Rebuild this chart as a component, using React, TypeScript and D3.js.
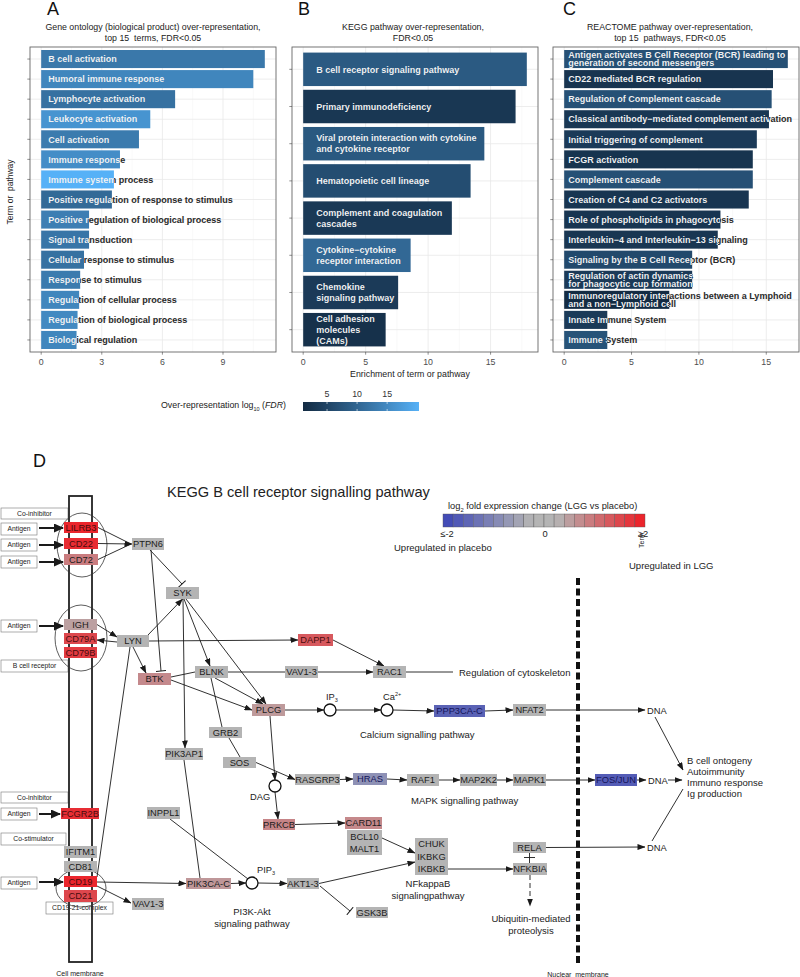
import React from "react";
import * as d3 from "d3";

const FONT = "'Liberation Sans', Arial, Helvetica, sans-serif";

// ---------- Panel A: GO over-representation ----------
const goTerms = [
  "B cell activation", "Humoral immune response", "Lymphocyte activation", "Leukocyte activation",
  "Cell activation", "Immune response", "Immune system process",
  "Positive regulation of response to stimulus", "Positive regulation of biological process",
  "Signal transduction", "Cellular response to stimulus", "Response to stimulus",
  "Regulation of cellular process", "Regulation of biological process", "Biological regulation",
];
const goEnrichment = [11.07, 10.5, 6.63, 5.4, 4.84, 3.9, 3.6, 3.5, 2.37, 2.37, 2.12, 1.93, 1.88, 1.8, 1.75];
const goLog10Fdr = [12.6, 14.5, 11.6, 16.4, 13.0, 15.5, 20.3, 10.6, 13.5, 12.2, 11.6, 13.0, 14.5, 14.9, 14.5];
const goTicks = [0, 3, 6, 9];

// ---------- Panel B: KEGG ----------
const keggTerms = [
  "B cell receptor signaling pathway", "Primary immunodeficiency",
  "Viral protein interaction with cytokine\nand cytokine receptor", "Hematopoietic cell lineage",
  "Complement and coagulation\ncascades", "Cytokine\u2212cytokine\nreceptor interaction",
  "Chemokine\nsignaling pathway", "Cell adhesion\nmolecules\n(CAMs)",
];
const keggEnrichment = [17.9, 17.0, 14.5, 13.4, 11.9, 8.6, 7.6, 6.6];
const keggLog10Fdr = [8.3, 2.9, 8.1, 6.4, 3.3, 10.3, 3.5, 2.0];
const keggTicks = [0, 5, 10, 15];

// ---------- Panel C: REACTOME ----------
const reactomeTerms = [
  "Antigen activates B Cell Receptor (BCR) leading to\ngeneration of second messengers",
  "CD22 mediated BCR regulation", "Regulation of Complement cascade",
  "Classical antibody\u2212mediated complement activation", "Initial triggering of complement",
  "FCGR activation", "Complement cascade", "Creation of C4 and C2 activators",
  "Role of phospholipids in phagocytosis", "Interleukin\u22124 and Interleukin\u221213 signaling",
  "Signaling by the B Cell Receptor (BCR)", "Regulation of actin dynamics\nfor phagocytic cup formation",
  "Immunoregulatory interactions between a Lymphoid\nand a non\u2212Lymphoid cell",
  "Innate Immune System", "Immune System",
];
const reactomeEnrichment = [16.6, 15.5, 15.4, 15.2, 14.3, 14.0, 14.0, 13.7, 11.6, 11.4, 9.5, 9.5, 7.8, 3.2, 3.2];
const reactomeLog10Fdr = [6.8, 2.5, 6.8, 2.9, 3.5, 2.4, 6.8, 2.7, 2.7, 2.8, 5.8, 3.5, 1.0, 3.5, 7.2];
const reactomeTicks = [0, 5, 10, 15];

const fdrLegendTicks = [5, 10, 15];

// ---------- Panel D: KEGG B cell receptor pathway, log2 fold change (LGG vs placebo) ----------
const geneIds = [
  "LILRB3", "CD22", "CD72", "PTPN6", "SYK", "IGH", "CD79A", "CD79B", "LYN", "DAPP1", "BTK", "BLNK",
  "VAV1-3", "RAC1", "PLCG", "GRB2", "SOS", "PIK3AP1", "RASGRP3", "HRAS", "RAF1", "MAP2K2", "MAPK1",
  "FOS/JUN", "PPP3CA-C", "NFAT2", "PRKCB", "CARD11", "BCL10/MALT1", "CHUK/IKBKG/IKBKB", "RELA",
  "NFKBIA", "INPPL1", "FCGR2B", "IFITM1", "CD81", "CD19", "CD21", "PIK3CA-C", "AKT1-3", "GSK3B", "VAV1-3 (b)",
];
const geneLabels = [
  "LILRB3", "CD22", "CD72", "PTPN6", "SYK", "IGH", "CD79A", "CD79B", "LYN", "DAPP1", "BTK", "BLNK",
  "VAV1-3", "RAC1", "PLCG", "GRB2", "SOS", "PIK3AP1", "RASGRP3", "HRAS", "RAF1", "MAP2K2", "MAPK1",
  "FOS/JUN", "PPP3CA-C", "NFAT2", "PRKCB", "CARD11", "BCL10\nMALT1", "CHUK\nIKBKG\nIKBKB", "RELA",
  "NFKBIA", "INPPL1", "FCGR2B", "IFITM1", "CD81", "CD19", "CD21", "PIK3CA-C", "AKT1-3", "GSK3B", "VAV1-3",
];
const geneLog2FC = [
  1.9, 1.83, 0.9, 0, 0, 0.48, 1.5, 1.65, 0, 1.3, 0.74, 0,
  0, 0, 0.55, 0, 0, 0, 0, -0.81, 0, 0, 0,
  -1.65, -1.56, 0, 0.8, 0.75, 0, 0, 0,
  0, 0, 1.8, 0, 0, 1.9, 1.5, 0.58, 0, 0, 0,
];
const fcLegendLabels = ["\u2264-2", "0", "\u22652"];

// ---------------- layout (diagram geometry) ----------------
type Box = [number, number, number, number];
const layout: Record<string, Box> = {
  LILRB3: [64, 522, 34, 11], CD22: [64, 538, 34, 11], CD72: [64, 554, 34, 11],
  PTPN6: [132, 538, 32, 12], SYK: [166, 587, 33, 12],
  IGH: [64, 619, 33, 11], CD79A: [64, 633, 33, 11], CD79B: [64, 647, 33, 11],
  LYN: [117, 635, 32, 12], DAPP1: [298, 634, 35, 12], BTK: [138, 673, 33, 12],
  BLNK: [195, 666, 33, 12], "VAV1-3": [285, 666, 33, 12], RAC1: [373, 666, 33, 12],
  PLCG: [252, 704, 33, 12], GRB2: [209, 727, 33, 11], SOS: [223, 757, 33, 11],
  PIK3AP1: [165, 748, 38, 12], RASGRP3: [295, 774, 45, 11], HRAS: [353, 773, 34, 12],
  RAF1: [407, 774, 32, 12], MAP2K2: [460, 774, 37, 12], MAPK1: [513, 774, 33, 12],
  "FOS/JUN": [595, 774, 42, 12], "PPP3CA-C": [434, 705, 51, 12], NFAT2: [513, 704, 33, 12],
  PRKCB: [263, 819, 32, 11], CARD11: [345, 817, 37, 12], "BCL10/MALT1": [347, 830, 35, 25],
  "CHUK/IKBKG/IKBKB": [415, 838, 33, 37], RELA: [513, 842, 33, 11], NFKBIA: [513, 863, 34, 12],
  INPPL1: [147, 807, 33, 12], FCGR2B: [61, 808, 38, 11], IFITM1: [64, 846, 33, 12],
  CD81: [64, 861, 33, 11], CD19: [64, 876, 33, 11], CD21: [64, 890, 33, 12],
  "PIK3CA-C": [186, 878, 45, 11], "AKT1-3": [287, 878, 32, 11], GSK3B: [356, 907, 32, 11],
  "VAV1-3 (b)": [132, 898, 32, 12],
};
type P = [number, number];
const Lf = (id: string, dy = 0): P => { const [x, y, , h] = layout[id]; return [x, y + h / 2 + dy]; };
const Rt = (id: string, dy = 0): P => { const [x, y, w, h] = layout[id]; return [x + w, y + h / 2 + dy]; };
const Bt = (id: string, dx = 0): P => { const [x, y, w, h] = layout[id]; return [x + w / 2 + dx, y + h]; };

const circles: { name: string; c: P }[] = [
  { name: "IP3", c: [330, 710] }, { name: "Ca", c: [387, 710] },
  { name: "DAG", c: [275, 786] }, { name: "PIP3", c: [252, 883] },
];

type Kind = "arrow" | "line" | "tbar" | "dash" | "thick";
const edges: [P, P, Kind][] = [
  [Rt("LILRB3"), [131, 544], "line"],
  [Rt("CD22"), Lf("PTPN6"), "arrow"],
  [Rt("CD72"), [131, 544], "line"],
  [[150, 550], [182, 584], "tbar"],
  [[151, 550], [161, 671], "tbar"],
  [Rt("IGH"), [117, 637], "arrow"],
  [[117, 642], [97, 640], "arrow"],
  [[148, 635], Bt("SYK"), "arrow"],
  [Rt("LYN"), Lf("DAPP1"), "arrow"],
  [Rt("DAPP1"), [384, 666], "arrow"],
  [[133, 647], [146, 673], "arrow"],
  [[97, 877], [130, 647], "line"],
  [[184, 599], [210, 666], "arrow"],
  [[186, 599], [266, 704], "arrow"],
  [[183, 599], [185, 748], "arrow"],
  [[171, 677], [195, 672], "line"],
  [[171, 680], Lf("PLCG"), "arrow"],
  [Rt("BLNK"), Lf("VAV1-3"), "line"],
  [Rt("VAV1-3"), Lf("RAC1"), "arrow"],
  [Rt("RAC1"), [453, 672], "line"],
  [[215, 678], [263, 704], "arrow"],
  [[211, 678], [222, 727], "line"],
  [[229, 738], [240, 757], "line"],
  [Rt("SOS"), Lf("RASGRP3"), "arrow"],
  [Rt("PLCG"), [324, 710], "arrow"],
  [[336, 710], [381, 710], "arrow"],
  [[393, 710], Lf("PPP3CA-C"), "arrow"],
  [Rt("PPP3CA-C"), Lf("NFAT2"), "arrow"],
  [Rt("NFAT2"), [645, 710], "arrow"],
  [[270, 716], [275, 780], "arrow"],
  [[275, 792], [278, 819], "arrow"],
  [Rt("PRKCB"), Lf("CARD11"), "arrow"],
  [[382, 838], [415, 853], "arrow"],
  [Rt("AKT1-3"), [415, 862], "arrow"],
  [[448, 869], Lf("NFKBIA"), "arrow"],
  [Rt("RELA"), [645, 847], "arrow"],
  [[530, 875], [530, 906], "dash"],
  [Rt("RASGRP3"), Lf("HRAS"), "arrow"],
  [Rt("HRAS"), Lf("RAF1"), "arrow"],
  [Rt("RAF1"), Lf("MAP2K2"), "arrow"],
  [Rt("MAP2K2"), Lf("MAPK1"), "arrow"],
  [Rt("MAPK1"), Lf("FOS/JUN"), "arrow"],
  [Rt("FOS/JUN"), [646, 780], "arrow"],
  [[668, 780], [682, 780], "arrow"],
  [[655, 717], [683, 770], "arrow"],
  [[652, 841], [683, 789], "line"],
  [[97, 882], Lf("PIK3CA-C"), "arrow"],
  [[97, 886], [131, 903], "arrow"],
  [Bt("PIK3AP1"), [200, 878], "line"],
  [Rt("PIK3CA-C"), [246, 883], "arrow"],
  [[170, 819], [248, 879], "line"],
  [[258, 883], Lf("AKT1-3"), "arrow"],
  [[320, 886], [350, 911], "tbar"],
  [[39, 528], [63, 528], "thick"],
  [[39, 545], [63, 545], "thick"],
  [[39, 562], [63, 562], "thick"],
  [[39, 626], [63, 626], "thick"],
  [[39, 814], [60, 814], "thick"],
  [[39, 882], [63, 882], "thick"],
];

const labelBoxes: [string, number, number, number, number][] = [
  ["Co-inhibitor", 1, 508, 67, 11], ["Antigen", 1, 523, 36, 12], ["Antigen", 1, 539, 36, 12],
  ["Antigen", 1, 556, 36, 12], ["Antigen", 1, 620, 36, 12], ["B cell receptor", 1, 660, 67, 12],
  ["Co-inhibitor", 1, 792, 67, 11], ["Antigen", 1, 808, 36, 12], ["Co-stimulator", 1, 833, 65, 12],
  ["Antigen", 1, 877, 36, 12], ["CD19-21-complex", 46, 902, 67, 12],
];

// ---------------- scales ----------------
const allFdr = [...goLog10Fdr, ...keggLog10Fdr, ...reactomeLog10Fdr];
const fdrExtent = d3.extent(allFdr) as [number, number];
const fdrColor = d3.scaleLinear<string>().domain(fdrExtent).range(["#132B43", "#56B1F7"]).interpolate(d3.interpolateLab);
const fcColor = d3.scaleLinear<string>().domain([-2, -0.25, 0.25, 2])
  .range(["#3c46b6", "#b4b4b4", "#b4b4b4", "#ee1c24"]).clamp(true);

type PanelProps = {
  id: string; labels: string[]; values: number[]; fdr: number[]; left: number; right: number;
  ticks: number[]; inset: number; gap: number; title: string[]; titleX: number; letter: string; letterX: number;
};
const TOP = 47, BOTTOM = 352;

function BarPanel(p: PanelProps) {
  const n = p.labels.length;
  const max = d3.max(p.values)!;
  const x = d3.scaleLinear().domain([-0.05 * max, 1.05 * max]).range([p.left, p.right]);
  const y = d3.scaleLinear().domain([0.4, n + 0.6]).range([TOP, BOTTOM]);
  const bh = 0.9 * (y(2) - y(1));
  const step = p.ticks[1] - p.ticks[0];
  const [d0, d1] = x.domain();
  const minors = p.ticks.map((t) => t + step / 2).filter((t) => t > d0 && t < d1);
  const gx0 = x(0), gx1 = p.right + 40;
  return (
    <g fontFamily={FONT}>
      <text x={p.letterX} y={15} fontSize={18} fill="#111">{p.letter}</text>
      {p.title.map((t, i) => (
        <text key={i} x={p.titleX} y={30 + i * 11} textAnchor="middle" fontSize={8.8} fill="#222" style={{ whiteSpace: "pre" }}>{t}</text>
      ))}
      <rect x={p.left} y={TOP} width={p.right - p.left} height={BOTTOM - TOP} fill="#fff" />
      {minors.map((t) => <line key={"m" + t} x1={x(t)} x2={x(t)} y1={TOP} y2={BOTTOM} stroke="#f3f3f3" strokeWidth={0.5} />)}
      {p.ticks.map((t) => <line key={"g" + t} x1={x(t)} x2={x(t)} y1={TOP} y2={BOTTOM} stroke="#e8e8e8" strokeWidth={0.8} />)}
      {p.labels.map((_, i) => <line key={"h" + i} x1={p.left} x2={p.right} y1={y(i + 1)} y2={y(i + 1)} stroke="#e8e8e8" strokeWidth={0.8} />)}
      <defs>
        {p.values.map((v, i) => {
          const f = (x(v) - gx0) / (gx1 - gx0);
          return (
            <linearGradient key={i} id={`${p.id}-g${i}`} gradientUnits="userSpaceOnUse" x1={gx0} x2={gx1} y1={0} y2={0}>
              <stop offset={f} stopColor="#f2f2f2" />
              <stop offset={f} stopColor="#2a2a2a" />
            </linearGradient>
          );
        })}
      </defs>
      {p.values.map((v, i) => {
        const cy = y(i + 1);
        const lines = p.labels[i].split("\n");
        const tx = x(0) + p.inset;
        return (
          <g key={i}>
            <rect x={x(0)} y={cy - bh / 2} width={x(v) - x(0)} height={bh} fill={fdrColor(p.fdr[i])} />
            <text fontSize={9} fontWeight="bold" fill={`url(#${p.id}-g${i})`}>
              {lines.map((ln, j) => (
                <tspan key={j} x={tx} y={cy + (j - (lines.length - 1) / 2) * p.gap + 3.2}>{ln}</tspan>
              ))}
            </text>
          </g>
        );
      })}
      <rect x={p.left} y={TOP} width={p.right - p.left} height={BOTTOM - TOP} fill="none" stroke="#666" strokeWidth={0.9} />
      {p.labels.map((_, i) => <line key={"yt" + i} x1={p.left - 2.7} x2={p.left} y1={y(i + 1)} y2={y(i + 1)} stroke="#444" strokeWidth={0.6} />)}
      {p.ticks.map((t) => (
        <g key={"xt" + t}>
          <line x1={x(t)} x2={x(t)} y1={BOTTOM} y2={BOTTOM + 2.7} stroke="#444" strokeWidth={0.6} />
          <text x={x(t)} y={BOTTOM + 13} textAnchor="middle" fontSize={8.8} fill="#4d4d4d">{t}</text>
        </g>
      ))}
    </g>
  );
}

function FdrLegend() {
  const lx = d3.scaleLinear().domain(fdrExtent).range([303, 419]);
  const stops = d3.range(0, 1.0001, 0.1);
  return (
    <g fontFamily={FONT}>
      <defs>
        <linearGradient id="fdrgrad" x1="0" x2="1" y1="0" y2="0">
          {stops.map((s) => <stop key={s} offset={s} stopColor={fdrColor(fdrExtent[0] + s * (fdrExtent[1] - fdrExtent[0]))} />)}
        </linearGradient>
      </defs>
      <text x={161} y={408} fontSize={8.8} fill="#222">
        Over-representation log<tspan fontSize={5.5} dy={2.5}>10</tspan><tspan dy={-2.5}> (</tspan><tspan fontStyle="italic">FDR</tspan>)
      </text>
      <rect x={303} y={402} width={116} height={9} fill="url(#fdrgrad)" />
      {fdrLegendTicks.map((t) => (
        <g key={t}>
          <line x1={lx(t)} x2={lx(t)} y1={402} y2={404} stroke="#fff" strokeWidth={0.6} />
          <line x1={lx(t)} x2={lx(t)} y1={409} y2={411} stroke="#fff" strokeWidth={0.6} />
          <text x={lx(t)} y={397} textAnchor="middle" fontSize={8.8} fill="#333">{t}</text>
        </g>
      ))}
    </g>
  );
}

function Diagram() {
  const nodeIndex = new Map(geneIds.map((g, i) => [g, i]));
  const cells = d3.range(20).map((i) => -2 + (i + 0.5) * 0.2);
  const cx = d3.scaleBand<number>().domain(d3.range(20)).range([443, 645]);
  const legendScale = d3.scaleLinear().domain([-2, 2]).range([447, 643]);
  return (
    <g fontFamily={FONT} fill="#222">
      <defs>
        <marker id="arr" markerUnits="userSpaceOnUse" markerWidth={8} markerHeight={6} refX={7.5} refY={3} orient="auto">
          <path d="M0,0 L8,3 L0,6 Z" fill="#1a1a1a" />
        </marker>
        <marker id="arrT" markerUnits="userSpaceOnUse" markerWidth={10} markerHeight={9} refX={9} refY={4.5} orient="auto">
          <path d="M0,0 L10,4.5 L0,9 Z" fill="#1a1a1a" />
        </marker>
        <marker id="tbar" markerUnits="userSpaceOnUse" markerWidth={3} markerHeight={10} refX={1.5} refY={5} orient="auto">
          <path d="M1.5,0 L1.5,10" stroke="#1a1a1a" strokeWidth={1} />
        </marker>
      </defs>
      <text x={33} y={467} fontSize={18} fill="#111">D</text>
      <text x={167} y={497} fontSize={14.6} fill="#222">KEGG B cell receptor signalling pathway</text>

      {/* fold change legend */}
      <text x={448} y={509} fontSize={9.3}>
        log<tspan fontSize={5.8} dy={2.5}>2</tspan><tspan dy={-2.5}> fold expression change (LGG vs placebo)</tspan>
      </text>
      {cells.map((v, i) => (
        <rect key={i} x={cx(i)} y={514} width={cx.bandwidth()} height={13} fill={fcColor(v)} stroke="#555" strokeWidth={0.4} />
      ))}
      {[-2, 0, 2].map((v, i) => (
        <text key={v} x={legendScale(v)} y={537} textAnchor="middle" fontSize={9.3}>{fcLegendLabels[i]}</text>
      ))}
      <text x={0} y={0} fontSize={7} transform="translate(644,548) rotate(-90)">Term</text>
      <text x={394} y={551} fontSize={9.5}>Upregulated in placebo</text>
      <text x={629} y={569} fontSize={9.5}>Upregulated in LGG</text>

      {/* label boxes */}
      {labelBoxes.map(([t, x, y, w, h], i) => (
        <g key={i}>
          <rect x={x} y={y} width={w} height={h} fill="#fff" stroke="#777" strokeWidth={0.6} />
          <text x={x + w / 2} y={y + h / 2 + 2.4} textAnchor="middle" fontSize={6.8}>{t}</text>
        </g>
      ))}

      {/* membranes */}
      <rect x={69} y={496} width={23} height={466} fill="none" stroke="#222" strokeWidth={1.8} />
      <text x={80} y={976} textAnchor="middle" fontSize={7}>Cell membrane</text>
      <line x1={578} x2={578} y1={578} y2={964} stroke="#111" strokeWidth={4} strokeDasharray="7 3.5" />
      <text x={578} y={977} textAnchor="middle" fontSize={7} style={{ whiteSpace: "pre" }}>Nuclear  membrane</text>

      {/* complexes */}
      <ellipse cx={82} cy={545} rx={25} ry={32} fill="none" stroke="#333" strokeWidth={0.8} />
      <ellipse cx={81} cy={638} rx={26} ry={33} fill="none" stroke="#333" strokeWidth={0.8} />
      <ellipse cx={81} cy={888} rx={25} ry={19} fill="none" stroke="#333" strokeWidth={0.8} />

      {/* edges */}
      {edges.map(([a, b, k], i) => (
        <line key={i} x1={a[0]} y1={a[1]} x2={b[0]} y2={b[1]} stroke="#1a1a1a"
          strokeWidth={k === "thick" ? 2 : 0.9}
          strokeDasharray={k === "dash" ? "5 3" : undefined}
          markerEnd={k === "arrow" || k === "dash" ? "url(#arr)" : k === "thick" ? "url(#arrT)" : k === "tbar" ? "url(#tbar)" : undefined} />
      ))}
      <line x1={529.5} x2={529.5} y1={853} y2={863} stroke="#1a1a1a" strokeWidth={0.9} />
      <line x1={524} x2={535} y1={857.5} y2={857.5} stroke="#1a1a1a" strokeWidth={0.9} />

      {/* gene nodes */}
      {geneIds.map((id) => {
        const [x, y, w, h] = layout[id];
        const i = nodeIndex.get(id)!;
        const fc = geneLog2FC[i];
        const lines = geneLabels[i].split("\n");
        return (
          <g key={id}>
            <rect x={x} y={y} width={w} height={h} fill={fcColor(fc)} />
            {lines.map((ln, j) => (
              <text key={j} x={x + w / 2} y={y + h / 2 + (j - (lines.length - 1) / 2) * 12.4 + 3.3}
                textAnchor="middle" fontSize={9.3} fill={fc < -0.5 ? "#14145a" : fc > 1 ? "#4a0d0d" : "#1c1c1c"}>{ln}</text>
            ))}
          </g>
        );
      })}

      {/* metabolites */}
      {circles.map((c) => <circle key={c.name} cx={c.c[0]} cy={c.c[1]} r={6} fill="#fff" stroke="#111" strokeWidth={1.3} />)}
      <text x={326} y={700} fontSize={9.3}>IP<tspan fontSize={5.5} dy={2}>3</tspan></text>
      <text x={383} y={700} fontSize={9.3}>Ca<tspan fontSize={5.5} dy={-4}>2+</tspan></text>
      <text x={250} y={800} fontSize={9.3}>DAG</text>
      <text x={257} y={873} fontSize={9.3}>PIP<tspan fontSize={5.5} dy={2}>3</tspan></text>

      {/* pathway annotations */}
      <text x={459} y={675.5} fontSize={9.5}>Regulation of cytoskeleton</text>
      <text x={360} y={738} fontSize={9.5}>Calcium signalling pathway</text>
      <text x={411} y={804} fontSize={9.5}>MAPK signalling pathway</text>
      <text x={428} y={887} textAnchor="middle" fontSize={9.5}>NFkappaB</text>
      <text x={428} y={899} textAnchor="middle" fontSize={9.5}>signalingpathway</text>
      <text x={252} y={915} textAnchor="middle" fontSize={9.5}>PI3K-Akt</text>
      <text x={252} y={927} textAnchor="middle" fontSize={9.5}>signaling pathway</text>
      <text x={531} y={922} textAnchor="middle" fontSize={9.5}>Ubiquitin-mediated</text>
      <text x={531} y={934} textAnchor="middle" fontSize={9.5}>proteolysis</text>
      <text x={647} y={714} fontSize={9.3}>DNA</text>
      <text x={648} y={783.5} fontSize={9.3}>DNA</text>
      <text x={647} y={850.5} fontSize={9.3}>DNA</text>
      {["B cell ontogeny", "Autoimmunity", "Immuno response", "Ig production"].map((t, i) => (
        <text key={t} x={687} y={764 + i * 11} fontSize={9.5}>{t}</text>
      ))}
    </g>
  );
}

export default function App() {
  return (
    <svg width={800} height={977} viewBox="0 0 800 977" style={{ position: "absolute", left: 0, top: 0, background: "#fff" }}>
      <rect width={800} height={977} fill="#fff" />
      <BarPanel id="go" labels={goTerms} values={goEnrichment} fdr={goLog10Fdr} left={30} right={276}
        ticks={goTicks} inset={7} gap={8} title={["Gene ontology (biological product) over-representation,", "top 15  terms, FDR<0.05"]}
        titleX={153} letter="A" letterX={47} />
      <BarPanel id="kegg" labels={keggTerms} values={keggEnrichment} fdr={keggLog10Fdr} left={292} right={538}
        ticks={keggTicks} inset={13} gap={11} title={["KEGG pathway over-representation,", "FDR<0.05"]}
        titleX={413} letter="B" letterX={298} />
      <BarPanel id="reac" labels={reactomeTerms} values={reactomeEnrichment} fdr={reactomeLog10Fdr} left={553} right={799}
        ticks={reactomeTicks} inset={4} gap={8} title={["REACTOME pathway over-representation,", "top 15  pathways, FDR<0.05"]}
        titleX={670} letter="C" letterX={563} />
      <text transform="translate(13,192) rotate(-90)" textAnchor="middle" fontSize={8.5} fontFamily={FONT} fill="#222" style={{ whiteSpace: "pre" }}>Term or  pathway</text>
      <text x={410} y={377} textAnchor="middle" fontSize={8.8} fontFamily={FONT} fill="#222">Enrichment of term or pathway</text>
      <FdrLegend />
      <Diagram />
    </svg>
  );
}
